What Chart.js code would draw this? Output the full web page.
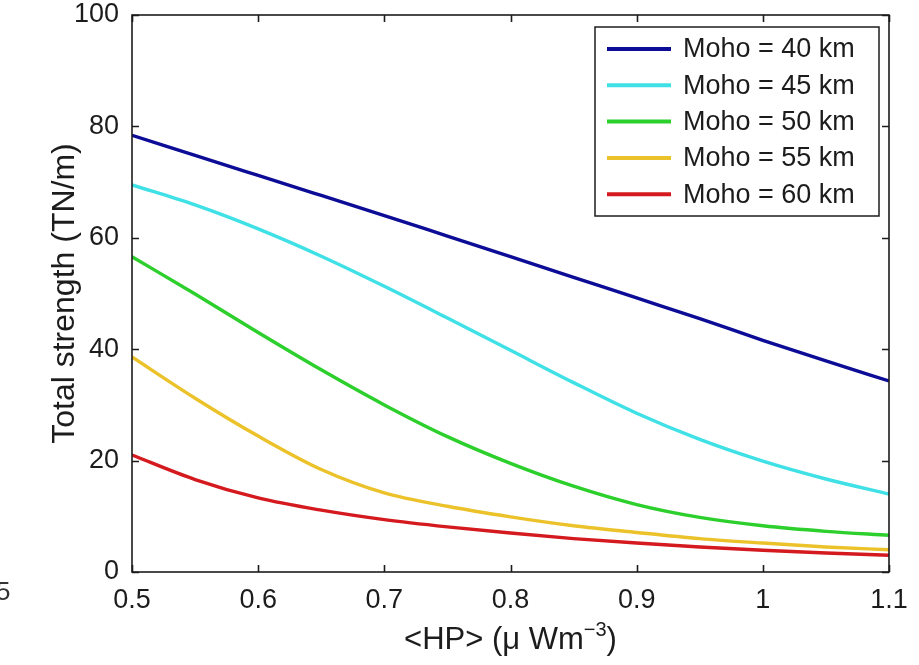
<!DOCTYPE html>
<html>
<head>
<meta charset="utf-8">
<script src="https://cdn.jsdelivr.net/npm/chart.js@4.4.0/dist/chart.umd.min.js"></script>
<style>
  html,body{margin:0;padding:0;background:#fff;}
  #wrap{width:919px;height:665px;position:relative;}
</style>
</head>
<body>
<div id="wrap"><canvas id="c"></canvas></div>
<script>
// x positions (<HP>, µW/m3)
const hp = [0.5, 0.55, 0.6, 0.65, 0.7, 0.75, 0.8, 0.85, 0.9, 0.95, 1.0, 1.05, 1.1];

// total strength (TN/m) per Moho depth
const moho40 = [78.4, 74.8, 71.2, 67.6, 64.0, 60.3, 56.6, 52.9, 49.2, 45.5, 41.6, 37.9, 34.3];
const moho45 = [69.5, 65.9, 61.6, 56.7, 51.3, 45.6, 39.8, 34.0, 28.5, 23.8, 19.9, 16.7, 14.0];
const moho50 = [56.6, 49.9, 43.0, 36.3, 30.0, 24.3, 19.5, 15.4, 12.1, 9.8, 8.3, 7.3, 6.6];
const moho55 = [38.6, 31.2, 24.4, 18.4, 14.2, 11.8, 9.9, 8.3, 7.1, 6.0, 5.2, 4.5, 4.0];
const moho60 = [21.0, 16.6, 13.3, 11.1, 9.4, 8.1, 7.0, 6.0, 5.2, 4.5, 3.9, 3.4, 3.0];

const seriesLabels = ['Moho = 40 km', 'Moho = 45 km', 'Moho = 50 km', 'Moho = 55 km', 'Moho = 60 km'];
const seriesValues = [moho40, moho45, moho50, moho55, moho60];
const seriesColors = ['#0c0c96', '#3fe0e6', '#2ccf2c', '#ecc22a', '#d41a1e'];

const FONT = '"Liberation Sans", Arial, Helvetica, sans-serif';
const INK  = '#1c1c1c';

const toPts = arr => arr.map((v,i)=>({x: hp[i], y: v}));

// box + inward ticks on all four sides, matlab style
const frame = {
  id:'frame',
  afterDraw(chart){
    const {ctx, chartArea:a, scales:{x, y}} = chart;
    ctx.save();
    ctx.strokeStyle = INK;
    ctx.lineWidth = 1.6;
    const tl = 7;
    ctx.beginPath();
    x.ticks.forEach(t=>{
      const px = Math.round(x.getPixelForValue(t.value)) + 0.5;
      ctx.moveTo(px, a.bottom); ctx.lineTo(px, a.bottom - tl);
      ctx.moveTo(px, a.top);    ctx.lineTo(px, a.top + tl);
    });
    y.ticks.forEach(t=>{
      const py = Math.round(y.getPixelForValue(t.value)) + 0.5;
      ctx.moveTo(a.left, py);  ctx.lineTo(a.left + tl, py);
      ctx.moveTo(a.right, py); ctx.lineTo(a.right - tl, py);
    });
    ctx.stroke();
    ctx.strokeRect(a.left, a.top, a.right - a.left, a.bottom - a.top);

    // x axis title with superscript
    ctx.fillStyle = INK;
    ctx.textBaseline = 'alphabetic';
    const big = '31px ' + FONT, sup = '20px ' + FONT;
    const p1 = '<HP> (\u03bc Wm', p2 = '\u22123', p3 = ')';
    ctx.font = big;
    const w1 = ctx.measureText(p1).width, w3 = ctx.measureText(p3).width;
    ctx.font = sup;
    const w2 = ctx.measureText(p2).width;
    const cx = (a.left + a.right) / 2;
    const sx = cx - (w1 + w2 + w3) / 2;
    const base = 649;
    ctx.textAlign = 'left';
    ctx.font = big;
    ctx.fillText(p1, sx, base);
    ctx.font = sup;
    ctx.fillText(p2, sx + w1, base - 13);
    ctx.font = big;
    ctx.fillText(p3, sx + w1 + w2, base);

    // stray label cut off at the left edge of the figure
    ctx.font = '26px ' + FONT;
    ctx.fillStyle = '#333';
    ctx.fillText('5', -4, 600);
    ctx.restore();
  }
};

// legend box inside the plot, top-right
const boxLegend = {
  id:'boxLegend',
  afterDatasetsDraw(chart){
    const {ctx, chartArea:a} = chart;
    const L = a.right - 294, R = a.right - 10, T = a.top + 12, B = a.top + 201;
    ctx.save();
    ctx.fillStyle = '#fff';
    ctx.fillRect(L, T, R - L, B - T);
    ctx.strokeStyle = INK;
    ctx.lineWidth = 1.5;
    ctx.strokeRect(L, T, R - L, B - T);
    ctx.font = '27px ' + FONT;
    ctx.textBaseline = 'middle';
    ctx.textAlign = 'left';
    chart.data.datasets.forEach((ds, i)=>{
      const yy = T + 22 + i * 36.3;
      ctx.strokeStyle = ds.borderColor;
      ctx.lineWidth = 4;
      ctx.beginPath();
      ctx.moveTo(L + 12, yy); ctx.lineTo(L + 76, yy);
      ctx.stroke();
      ctx.fillStyle = INK;
      ctx.fillText(ds.label, L + 88, yy + 1);
    });
    ctx.restore();
  }
};

new Chart(document.getElementById('c'), {
  type:'line',
  data:{
    datasets: seriesLabels.map((lab, i)=>({
      label: lab,
      data: toPts(seriesValues[i]),
      borderColor: seriesColors[i],
      backgroundColor: seriesColors[i],
      borderWidth: 3.4,
      pointRadius: 0,
      cubicInterpolationMode: 'monotone',
      fill: false
    }))
  },
  options:{
    responsive:true,
    maintainAspectRatio:false,
    animation:false,
    layout:{ padding:{ top:15, right:30, left:0, bottom:0 } },
    plugins:{ legend:{display:false}, tooltip:{enabled:false} },
    scales:{
      x:{
        type:'linear',
        min:0.5, max:1.1,
        afterFit(s){ s.height = 93; s.paddingLeft = 0; s.paddingRight = 0; },
        afterBuildTicks(s){
          s.ticks = [0.5,0.6,0.7,0.8,0.9,1.0,1.1].map(v=>({value:v}));
        },
        ticks:{
          padding:12,
          maxRotation:0,
          color:INK,
          font:{family:FONT, size:27},
          callback:v => String(+(+v).toFixed(1))
        },
        grid:{ drawOnChartArea:false, drawTicks:false },
        border:{ display:false }
      },
      y:{
        min:0, max:100,
        afterFit(s){ s.width = 132; s.paddingTop = 0; s.paddingBottom = 0; },
        ticks:{
          stepSize:20,
          padding:13,
          color:INK,
          font:{family:FONT, size:27}
        },
        grid:{ drawOnChartArea:false, drawTicks:false },
        border:{ display:false },
        title:{
          display:true,
          text:'Total strength (TN/m)',
          color:INK,
          font:{family:FONT, size:32},
          padding:{ top:46, bottom:0 }
        }
      }
    }
  },
  plugins:[boxLegend, frame]
});
</script>
</body>
</html>
